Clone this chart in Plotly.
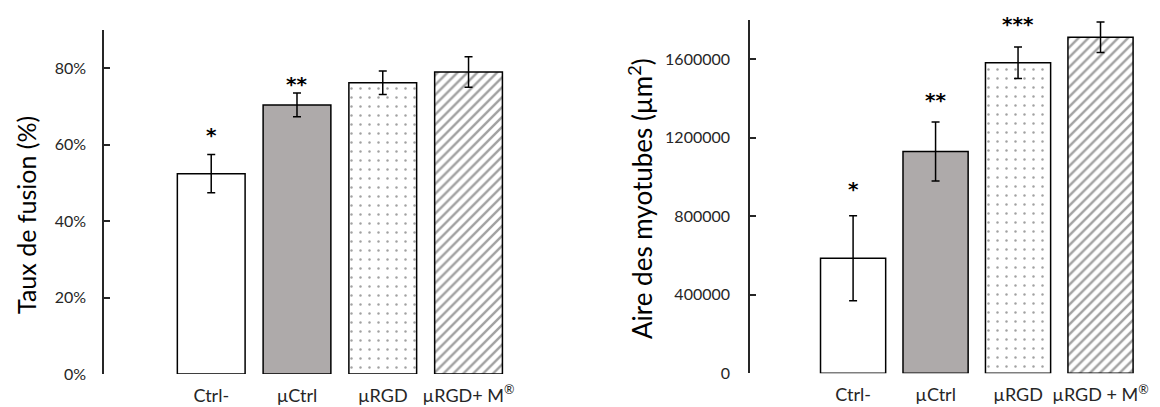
import plotly.graph_objects as go

# ---- data ----
categories_left = ["Ctrl-", "µCtrl", "µRGD", "µRGD+ M<sup>®</sup>"]
categories_right = ["Ctrl-", "µCtrl", "µRGD", "µRGD + M<sup>®</sup>"]
fusion_rate = [0.524, 0.704, 0.762, 0.790]
fusion_err = [0.050, 0.031, 0.031, 0.040]
fusion_stars = ["*", "**", "", ""]
myotube_area = [586000, 1130000, 1582000, 1712000]
myotube_err = [217000, 150000, 80000, 78000]
area_stars = ["*", "**", "***", ""]
left_ticks = [0, 0.2, 0.4, 0.6, 0.8]
right_ticks = [0, 400000, 800000, 1200000, 1600000]

# ---- styles ----
FONT = "Lato"
STAR_FONT = "DejaVu Sans"
fills = ["#FFFFFF", "#AEAAAA", "#FFFFFF", "#FFFFFF"]
pat_shapes = ["", "", ".", "/"]
pat_fg = ["#000000", "#000000", "#C8C8C8", "#A9A9A9"]
pat_size = [6, 6, 9, 7]
pat_sol = [0.2, 0.2, 0.06, 0.35]

W, H = 1160, 407
def px_x(p): return p / W
def px_y(p): return (H - p) / H

fig = go.Figure()

def add_bars(vals, errs, xa, ya):
    fig.add_trace(go.Bar(
        x=list(range(len(vals))), y=vals, width=0.79,
        xaxis=xa, yaxis=ya,
        marker=dict(color=fills, line=dict(color="black", width=1.5),
                    pattern=dict(shape=pat_shapes, fgcolor=pat_fg, size=pat_size,
                                 solidity=pat_sol, fillmode="overlay")),
        error_y=dict(type="data", array=errs, color="black", thickness=1.5, width=4),
        showlegend=False, hoverinfo="skip"))

add_bars(fusion_rate, fusion_err, "x", "y")
add_bars(myotube_area, myotube_err, "x2", "y2")

axis_font = dict(family=FONT, size=16, color="#262626")
cat_font = dict(family=FONT, size=18, color="#262626")

common_x = dict(showline=False, showgrid=False, zeroline=False, ticks="",
                tickfont=cat_font, ticklabelstandoff=9, automargin=False)
common_y = dict(showline=True, linecolor="#262626", linewidth=1.5,
                ticks="inside", ticklen=6, tickwidth=1.5, tickcolor="#262626",
                showgrid=False, zeroline=False, tickfont=axis_font, automargin=False)

fig.update_layout(
    width=W, height=H, margin=dict(l=0, r=0, t=0, b=0, autoexpand=False),
    paper_bgcolor="white", plot_bgcolor="white",
    xaxis=dict(domain=[px_x(104), px_x(520)], range=[-1.25, 3.6],
               tickvals=list(range(4)), ticktext=categories_left, **common_x),
    yaxis=dict(domain=[px_y(374), px_y(30)], range=[0, 0.9],
               tickvals=left_ticks, tickformat=".0%", ticklabelstandoff=13, **common_y),
    xaxis2=dict(domain=[px_x(750), px_x(1150)], range=[-1.25, 3.6], anchor="y2",
                tickvals=list(range(4)), ticktext=categories_right, **common_x),
    yaxis2=dict(domain=[px_y(373.3), px_y(20)], range=[0, 1800000], anchor="x2",
                tickvals=right_ticks, tickformat="d", ticklabelstandoff=15, **common_y),
)

annotations = []
left_shift = [26, 15, 0, 0]
for i, s in enumerate(fusion_stars):
    if s:
        annotations.append(dict(x=i, y=fusion_rate[i] + fusion_err[i], xref="x", yref="y",
                                text="<b>" + s + "</b>", showarrow=False, yanchor="middle",
                                yshift=left_shift[i] - 6,
                                font=dict(family=STAR_FONT, size=20, color="black")))
right_shift = [33, 28, 29, 0]
for i, s in enumerate(area_stars):
    if s:
        annotations.append(dict(x=i, y=myotube_area[i] + myotube_err[i], xref="x2", yref="y2",
                                text="<b>" + s + "</b>", showarrow=False, yanchor="middle",
                                yshift=right_shift[i] - 6,
                                font=dict(family=STAR_FONT, size=20, color="black")))

annotations.append(dict(x=px_x(26), y=px_y(215), xref="paper", yref="paper",
                        xanchor="center", yanchor="middle",
                        text="Taux de fusion (%)", textangle=-90, showarrow=False,
                        font=dict(family=FONT, size=25, color="black")))
annotations.append(dict(x=px_x(640), y=px_y(199), xref="paper", yref="paper",
                        xanchor="center", yanchor="middle",
                        text="Aire des myotubes (µm<sup>2</sup>)", textangle=-90, showarrow=False,
                        font=dict(family=FONT, size=26, color="black")))
fig.update_layout(annotations=annotations)

fig.write_html("out.html", config={"displayModeBar": False},
               post_script="document.body.style.margin='0';document.body.style.overflow='hidden';")
